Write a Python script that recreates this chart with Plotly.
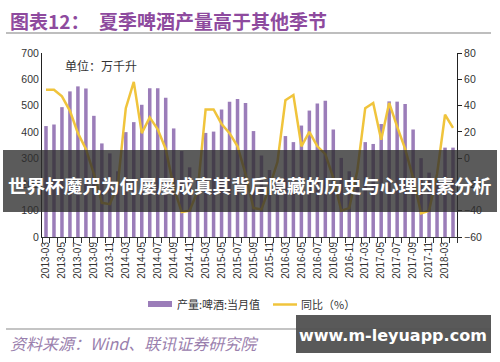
import plotly.graph_objects as go

# ---------------- data ----------------
categories = [
    "2013-03", "2013-04", "2013-05", "2013-06", "2013-07", "2013-08", "2013-09", "2013-10", "2013-11", "2013-12",
    "2014-03", "2014-04", "2014-05", "2014-06", "2014-07", "2014-08", "2014-09", "2014-10", "2014-11", "2014-12",
    "2015-03", "2015-04", "2015-05", "2015-06", "2015-07", "2015-08", "2015-09", "2015-10", "2015-11", "2015-12",
    "2016-03", "2016-04", "2016-05", "2016-06", "2016-07", "2016-08", "2016-09", "2016-10", "2016-11", "2016-12",
    "2017-03", "2017-04", "2017-05", "2017-06", "2017-07", "2017-08", "2017-09", "2017-10", "2017-11", "2017-12",
    "2018-03", "2018-04",
]
production = [
    422, 428, 494, 554, 573, 565, 461, 356, 318, 250,
    399, 437, 503, 566, 566, 530, 413, 327, 265, 225,
    396, 401, 485, 515, 525, 510, 403, 310, 255, 225,
    384, 361, 424, 481, 508, 518, 409, 301, 250, 220,
    361, 354, 430, 516, 515, 506, 409, 300, 245, 215,
    340, 340,
]
yoy = [
    52, 52, 47, 36, 19, 7, -12, -34, -35, -20,
    38, 58, 19, 31, 22, 7, -22, -41, -40, -25,
    37, 37, 26, 19, 9, -12, -38, -39, -22, -3,
    44, 48, 9, 20, 9, 3, -15, -40, -38, -10,
    38, 42, 14, 42, 24, 7, -15, -42, -40, -12,
    33, 23,
]
tick_labels = [c if i % 2 == 0 else "" for i, c in enumerate(categories)]
series_names = ["产量:啤酒:当月值", "同比（%）"]

title_text = "图表12：　夏季啤酒产量高于其他季节"
unit_text = "单位：万千升"
source_text = "资料来源：Wind、联讯证券研究院"
banner_text = "世界杯魔咒为何屡屡成真其背后隐藏的历史与心理因素分析"
watermark_text = "www.m-leyuapp.com"

# ---------------- layout helpers ----------------
W, H = 500, 362
ML, MR, MT, MB = 42, 43, 53, 125
PW, PH = W - ML - MR, H - MT - MB

def px(x):
    return (x - ML) / PW

def py(y):
    return (H - MB - y) / PH

BAR_COLOR = "#9b7db9"
LINE_COLOR = "#f0c43c"
CJK = "Noto Sans CJK SC"
LAT = "Liberation Sans, Arial"

fig = go.Figure()
fig.add_trace(go.Bar(
    x=categories, y=production, name=series_names[0],
    marker=dict(color=BAR_COLOR, line=dict(width=0)),
    yaxis="y", showlegend=False,
))
fig.add_trace(go.Scatter(
    x=categories, y=yoy, name=series_names[1], mode="lines",
    line=dict(color=LINE_COLOR, width=2.5),
    yaxis="y2", showlegend=False,
))

fig.update_layout(
    width=W, height=H,
    margin=dict(l=ML, r=MR, t=MT, b=MB, pad=0, autoexpand=False),
    paper_bgcolor="white", plot_bgcolor="white",
    bargap=0.56,
    font=dict(family=LAT, size=10, color="#333333"),
    xaxis=dict(
        type="category", automargin=False,
        tickmode="array", tickvals=categories, ticktext=tick_labels,
        tickson="boundaries",
        tickangle=-90, tickfont=dict(size=10, color="#333333", family=LAT),
        ticks="outside", ticklen=5, tickcolor="#333333",
        showline=True, linecolor="#333333", linewidth=1,
        showgrid=False, zeroline=False,
    ),
    yaxis=dict(
        range=[0, 700], dtick=100, tick0=0, automargin=False,
        showline=True, linecolor="#222222", linewidth=1,
        ticks="", showgrid=False, zeroline=False,
        tickfont=dict(size=10.5, color="#333333", family=LAT),
    ),
    yaxis2=dict(
        range=[-60, 80], dtick=20, tick0=-60, automargin=False,
        overlaying="y", side="right",
        showline=True, linecolor="#222222", linewidth=1,
        ticks="outside", ticklen=4, tickcolor="#222222",
        showgrid=False, zeroline=False,
        tickfont=dict(size=10.5, color="#333333", family=LAT),
    ),
)

shapes = []
annotations = []

# title + rule
annotations.append(dict(
    x=px(8), y=py(20), xref="paper", yref="paper", xanchor="left", yanchor="middle",
    text="<b>" + title_text + "</b>", showarrow=False,
    font=dict(family=CJK, size=19, color="#8e4a9e"),
))
shapes.append(dict(type="line", xref="paper", yref="paper",
                   x0=px(6), x1=px(491), y0=py(33), y1=py(33),
                   line=dict(color="#a8a8a8", width=1.5)))

# unit label
annotations.append(dict(
    x=px(63), y=py(65), xref="paper", yref="paper", xanchor="left", yanchor="middle",
    text=unit_text, showarrow=False,
    font=dict(family=CJK, size=12, color="#333333"),
))

# manual legend
shapes.append(dict(type="rect", xref="paper", yref="paper",
                   x0=px(148), x1=px(172), y0=py(307), y1=py(301),
                   fillcolor=BAR_COLOR, line=dict(width=0)))
annotations.append(dict(
    x=px(175), y=py(304), xref="paper", yref="paper", xanchor="left", yanchor="middle",
    text=series_names[0], showarrow=False,
    font=dict(family=CJK, size=11, color="#333333"),
))
shapes.append(dict(type="line", xref="paper", yref="paper",
                   x0=px(273), x1=px(297), y0=py(304.5), y1=py(304.5),
                   line=dict(color=LINE_COLOR, width=2.5)))
annotations.append(dict(
    x=px(299), y=py(304), xref="paper", yref="paper", xanchor="left", yanchor="middle",
    text=series_names[1], showarrow=False,
    font=dict(family=CJK, size=11, color="#333333"),
))

# bottom rule + source
shapes.append(dict(type="line", xref="paper", yref="paper",
                   x0=px(6), x1=px(491), y0=py(329), y1=py(329),
                   line=dict(color="#b0b0b0", width=1.5)))
annotations.append(dict(
    x=px(8), y=py(343), xref="paper", yref="paper", xanchor="left", yanchor="middle",
    text="<i>" + source_text + "</i>", showarrow=False,
    font=dict(family=CJK, size=16, color="#9a80ad"),
))

# overlay banner across the chart
shapes.append(dict(type="rect", xref="paper", yref="paper", layer="above",
                   x0=px(3), x1=px(497), y0=py(212), y1=py(150),
                   fillcolor="rgba(45,45,45,0.78)", line=dict(width=0)))
annotations.append(dict(
    x=px(250), y=py(184), xref="paper", yref="paper", xanchor="center", yanchor="middle",
    text="<b>" + banner_text + "</b>", showarrow=False,
    font=dict(family=CJK, size=18.6, color="white"),
))

# watermark box
shapes.append(dict(type="rect", xref="paper", yref="paper", layer="above",
                   x0=px(296), x1=px(491), y0=py(353), y1=py(315),
                   fillcolor="rgba(80,80,80,0.95)", line=dict(width=0)))
annotations.append(dict(
    x=px(393), y=py(335), xref="paper", yref="paper", xanchor="center", yanchor="middle",
    text="<b>" + watermark_text + "</b>", showarrow=False,
    font=dict(family="DejaVu Sans, Liberation Sans", size=16, color="white"),
))

fig.update_layout(shapes=shapes, annotations=annotations)
fig.write_html(
    "out.html",
    config={"displayModeBar": False, "staticPlot": True},
    post_script="document.body.style.margin='0';",
)
